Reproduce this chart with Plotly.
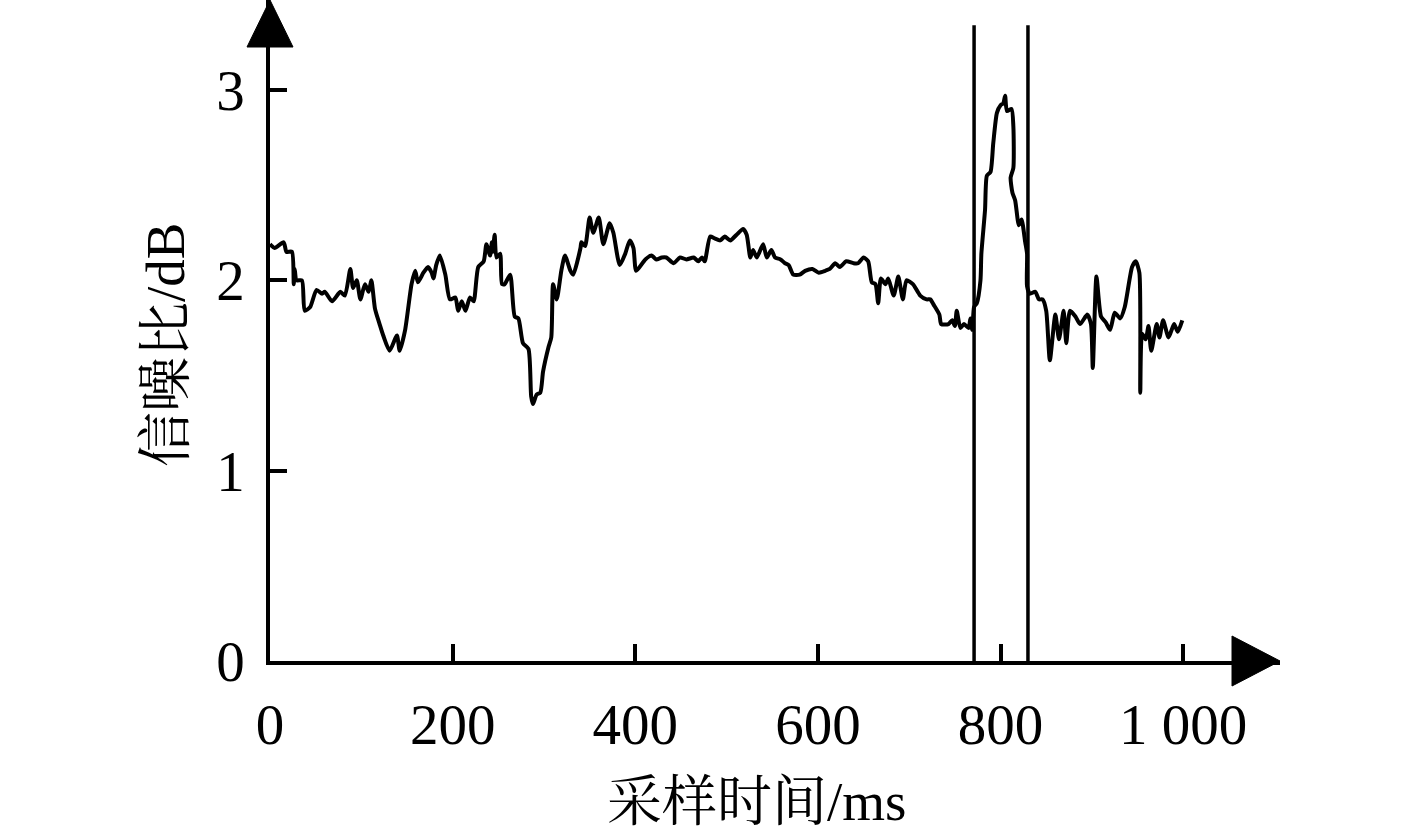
import plotly.graph_objects as go

# sampling time (ms) and signal-to-noise ratio (dB)
time_ms = [0, 5, 15, 18, 24, 26, 27, 29, 35, 38, 44, 51, 57, 60, 68, 77, 82, 88, 91, 95,
           99, 104, 108, 111, 115, 120, 124, 131, 139, 142, 148, 155, 159, 162, 168, 173, 177, 179, 182, 186,
           192, 197, 203, 206, 210, 214, 219, 223, 228, 234, 237, 241, 243, 244, 246, 248, 252, 254, 257, 263,
           268, 272, 277, 283, 286, 288, 292, 296, 299, 305, 308, 310, 314, 319, 323, 329, 332, 340, 341, 345,
           350, 354, 360, 365, 372, 376, 383, 389, 394, 398, 401, 411, 418, 423, 429, 434, 442, 449, 456, 464,
           469, 473, 476, 482, 487, 493, 498, 504, 511, 518, 522, 526, 529, 533, 540, 544, 549, 553, 559, 564,
           568, 573, 580, 586, 594, 601, 608, 613, 619, 624, 631, 639, 644, 650, 655, 659, 663, 666, 669, 674,
           677, 683, 688, 693, 697, 704, 712, 719, 723, 727, 733, 735, 743, 747, 750, 752, 756, 760, 765, 767,
           769, 771, 774, 778, 779, 783, 785, 789, 792, 796, 800, 803, 805, 807, 812, 814, 814, 811, 813, 816,
           820, 823, 827, 829, 829, 832, 838, 842, 846, 850, 854, 860, 864, 869, 872, 876, 882, 887, 895, 899,
           901, 905, 910, 915, 920, 925, 931, 936, 944, 948, 952, 953, 955, 959, 962, 965, 971, 974, 978, 984,
           990, 994, 999]
snr_db = [2.19, 2.17, 2.20, 2.15, 2.15, 1.98, 2.06, 2.00, 2.00, 1.84, 1.86, 1.95, 1.93, 1.94, 1.89, 1.94, 1.92, 2.06, 1.96, 2.00,
          1.90, 1.98, 1.94, 2.00, 1.85, 1.77, 1.71, 1.63, 1.71, 1.63, 1.74, 1.98, 2.05, 1.99, 2.04, 2.07, 2.04, 2.01, 2.08, 2.13,
          2.03, 1.90, 1.91, 1.84, 1.89, 1.84, 1.91, 1.89, 2.07, 2.10, 2.19, 2.13, 2.20, 2.15, 2.24, 2.12, 2.14, 1.98, 1.98, 2.03,
          1.81, 1.80, 1.67, 1.64, 1.39, 1.35, 1.40, 1.41, 1.52, 1.65, 1.70, 1.98, 1.90, 2.05, 2.13, 2.05, 2.03, 2.17, 2.20, 2.18,
          2.33, 2.25, 2.33, 2.19, 2.30, 2.25, 2.08, 2.14, 2.21, 2.17, 2.05, 2.11, 2.13, 2.11, 2.12, 2.12, 2.09, 2.12, 2.11, 2.12,
          2.10, 2.12, 2.10, 2.23, 2.22, 2.21, 2.23, 2.21, 2.24, 2.27, 2.24, 2.12, 2.16, 2.12, 2.19, 2.12, 2.16, 2.12, 2.11, 2.09,
          2.08, 2.03, 2.03, 2.05, 2.06, 2.04, 2.05, 2.06, 2.09, 2.07, 2.10, 2.09, 2.09, 2.12, 2.10, 1.99, 1.98, 1.88, 2.01, 1.98,
          2.01, 1.92, 2.02, 1.90, 2.00, 1.98, 1.92, 1.90, 1.90, 1.87, 1.82, 1.77, 1.77, 1.79, 1.76, 1.84, 1.75, 1.77, 1.75, 1.80,
          1.74, 1.86, 1.88, 2.00, 2.14, 2.37, 2.55, 2.57, 2.72, 2.88, 2.92, 2.93, 2.97, 2.89, 2.90, 2.81, 2.59, 2.54, 2.46, 2.42,
          2.29, 2.32, 2.20, 2.14, 1.97, 1.93, 1.94, 1.90, 1.90, 1.84, 1.58, 1.82, 1.69, 1.84, 1.67, 1.84, 1.81, 1.77, 1.82, 1.77,
          1.54, 2.02, 1.81, 1.78, 1.74, 1.83, 1.80, 1.86, 2.07, 2.10, 2.04, 1.41, 1.72, 1.69, 1.76, 1.63, 1.77, 1.70, 1.79, 1.70,
          1.77, 1.73, 1.79]

# marked window edges (ms) and how high the marker lines reach (dB)
window_edges = [771, 830]
window_top = 3.34

x_ticks = [0, 200, 400, 600, 800, 1000]
x_tick_text = ["0", "200", "400", "600", "800", "1 000"]
y_ticks = [0, 1, 2, 3]

FONT = "Liberation Serif, Times New Roman, Noto Serif CJK SC, Noto Sans CJK SC, serif"

fig = go.Figure()
fig.add_trace(go.Scatter(x=time_ms, y=snr_db, mode="lines",
                         line=dict(color="black", width=4, shape="spline", smoothing=0.6)))
for edge in window_edges:
    fig.add_trace(go.Scatter(x=[edge, edge], y=[0, window_top], mode="lines",
                             line=dict(color="black", width=3.5)))

# arrow heads on the two axes
fig.add_shape(type="path", xref="paper", yref="paper", xsizemode="pixel", ysizemode="pixel",
              xanchor=1, yanchor=0, path="M 0 0 L -48 25 L -48 -25 Z",
              fillcolor="black", line=dict(color="black", width=1))
fig.add_shape(type="path", xref="paper", yref="paper", xsizemode="pixel", ysizemode="pixel",
              xanchor=0, yanchor=1, path="M 0 0 L -23 -47 L 23 -47 Z",
              fillcolor="black", line=dict(color="black", width=1))

fig.add_annotation(text="采样时间/ms", xref="paper", yref="paper", x=0.482, y=-0.212,
                   xanchor="center", yanchor="middle",
                   showarrow=False, font=dict(family=FONT, size=55, color="black"))
fig.add_annotation(text="信噪比/dB", xref="paper", yref="paper", x=-0.104, y=0.478,
                   xanchor="center", yanchor="middle", textangle=-90,
                   showarrow=False, font=dict(family=FONT, size=55, color="black"))

fig.update_xaxes(range=[0, 1106], showline=True, linecolor="black", linewidth=3.5,
                 ticks="inside", ticklen=17, tickwidth=3.5, tickcolor="black",
                 tickvals=x_ticks, ticktext=x_tick_text, ticklabelstandoff=11,
                 showgrid=False, zeroline=False, tickfont=dict(family=FONT, size=57, color="black"))
fig.update_yaxes(range=[0, 3.473], showline=True, linecolor="black", linewidth=3.5,
                 ticks="inside", ticklen=17, tickwidth=3.5, tickcolor="black",
                 tickvals=y_ticks, ticklabelstandoff=10,
                 showgrid=False, zeroline=False, tickfont=dict(family=FONT, size=57, color="black"))
fig.update_layout(width=1417, height=833, showlegend=False,
                  plot_bgcolor="white", paper_bgcolor="white",
                  margin=dict(l=270, r=137, t=0, b=172))
fig.write_html("out.html", config={"displayModeBar": False},
               post_script="document.body.style.margin = '0';")
